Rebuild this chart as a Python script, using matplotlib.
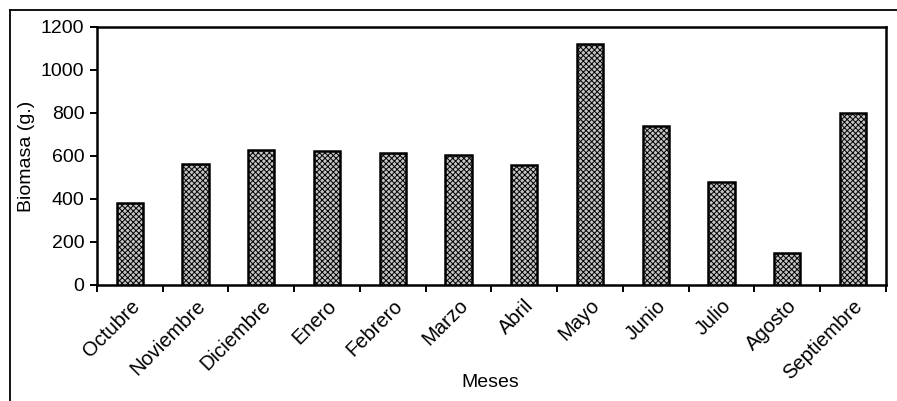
import matplotlib
matplotlib.use("Agg")
import matplotlib.pyplot as plt
from matplotlib.lines import Line2D
import numpy as np

plt.rcParams['font.family'] = ['Liberation Sans', 'DejaVu Sans']
plt.rcParams['hatch.linewidth'] = 0.7
plt.rcParams['hatch.color'] = '#2a2a2a'

meses = ["Octubre", "Noviembre", "Diciembre", "Enero", "Febrero", "Marzo",
         "Abril", "Mayo", "Junio", "Julio", "Agosto", "Septiembre"]
biomasa = [380, 565, 630, 622, 614, 606, 556, 1122, 738, 480, 150, 802]
yticks = [0, 200, 400, 600, 800, 1000, 1200]

fig = plt.figure(figsize=(8.97, 4.01), dpi=100)
ax = fig.add_axes([0.1081, 0.2893, 0.8796, 0.6434])

x = np.arange(len(meses))
ax.bar(x, biomasa, width=0.4, facecolor='#c4c4c4', edgecolor='black',
       linewidth=1.8, hatch='xxxxxx', zorder=3)

ax.set_xlim(-0.5, len(meses) - 0.5)
ax.set_ylim(0, 1200)
ax.set_yticks(yticks)
ax.set_yticklabels([str(v) for v in yticks], fontsize=14)

# ticks sit between categories, labels under each bar
ax.set_xticks(np.arange(-0.5, len(meses) + 0.5, 1.0))
ax.set_xticklabels([])
ax.set_xticks(x, minor=True)
ax.set_xticklabels(meses, minor=True, rotation=45, ha='right', va='top',
                   rotation_mode='anchor', fontsize=14.5)
ax.tick_params(axis='x', which='minor', length=0, pad=8)
ax.tick_params(axis='x', which='major', length=5, width=1.4, direction='out')
ax.tick_params(axis='y', length=5, width=1.4, direction='out', pad=4)

for s in ax.spines.values():
    s.set_linewidth(1.8)

ax.set_ylabel("Biomasa (g.)", fontsize=14, labelpad=4)
fig.text(0.546, 0.045, "Meses", ha='center', va='center', fontsize=14)

# outer chart frame (top and left edges)
fig.add_artist(Line2D([10 / 897, 1.0], [1 - 10 / 401, 1 - 10 / 401],
                      transform=fig.transFigure, color='black', lw=1.3))
fig.add_artist(Line2D([10 / 897, 10 / 897], [0.0, 1 - 10 / 401],
                      transform=fig.transFigure, color='black', lw=1.3))

fig.savefig("out.png", dpi=100)
